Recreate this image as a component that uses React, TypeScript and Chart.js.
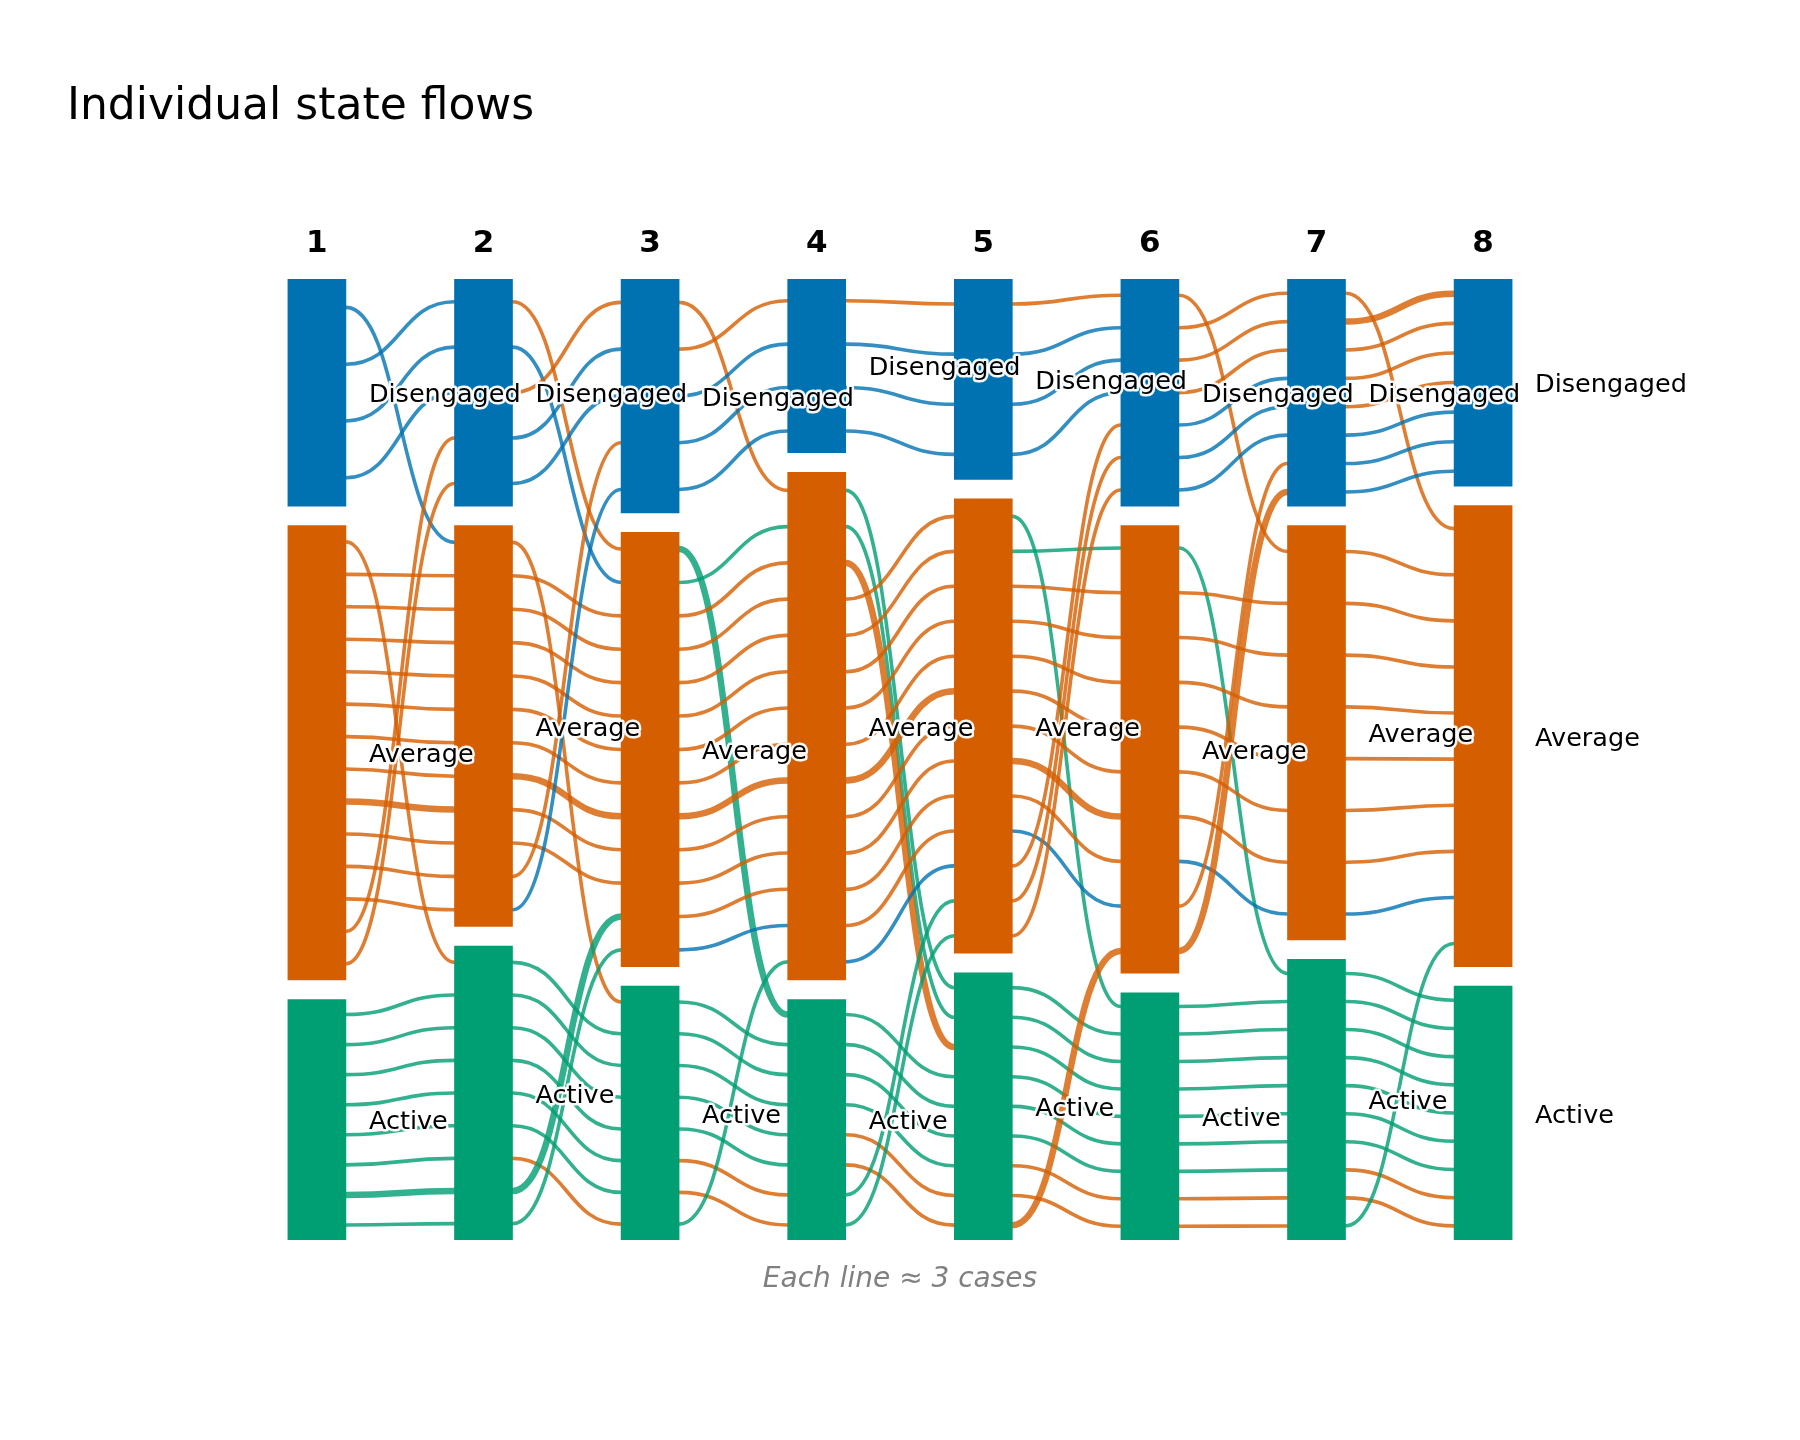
import React, { useEffect, useRef } from "react";
import { Chart, registerables } from "chart.js";

Chart.register(...registerables);

const TITLE = "Individual state flows";
const FOOTNOTE = "Each line \u2248 3 cases";
const COLUMNS = [1, 2, 3, 4, 5, 6, 7, 8];
const STATES = ["Disengaged", "Average", "Active"];
const STATE_COLORS = ["#0072B2", "#D55E00", "#009E73"];
const LINE_COLORS = ["rgba(0,114,178,0.8)", "rgba(213,94,0,0.8)", "rgba(0,158,115,0.8)"];

// cases in each state at each time point
const DISENGAGED = [34, 34, 35, 26, 30, 34, 34, 31];
const AVERAGE = [68, 60, 65, 76, 68, 67, 62, 69];
const ACTIVE = [36, 44, 38, 36, 40, 37, 42, 38];

// number of drawn lines inside each node
const LINES_DIS = [4, 5, 5, 4, 4, 7, 8, 7];
const LINES_AVG = [14, 12, 13, 14, 13, 10, 8, 10];
const LINES_ACT = [8, 9, 8, 8, 9, 9, 10, 9];

// flows: [fromState, fromSlot, toState, toSlot, colourState (state at time 1), weight]
const FLOWS_1_2 = [
  [0, 0, 1, 0, 0, 1], [0, 1, 0, 0, 0, 1], [0, 2, 0, 1, 0, 1], [0, 3, 0, 2, 0, 1],
  [1, 0, 2, 0, 1, 1], [1, 1, 1, 1, 1, 1], [1, 2, 1, 2, 1, 1], [1, 3, 1, 3, 1, 1],
  [1, 4, 1, 4, 1, 1], [1, 5, 1, 5, 1, 1], [1, 6, 1, 6, 1, 1], [1, 7, 1, 7, 1, 1],
  [1, 8, 1, 8, 1, 2], [1, 9, 1, 9, 1, 1], [1, 10, 1, 10, 1, 1], [1, 11, 1, 11, 1, 1],
  [1, 12, 0, 3, 1, 1], [1, 13, 0, 4, 1, 1],
  [2, 0, 2, 1, 2, 1], [2, 1, 2, 2, 2, 1], [2, 2, 2, 3, 2, 1], [2, 3, 2, 4, 2, 1],
  [2, 4, 2, 5, 2, 1], [2, 5, 2, 6, 2, 1], [2, 6, 2, 7, 2, 2], [2, 7, 2, 8, 2, 1],
];
const FLOWS_2_3 = [
  [0, 0, 1, 0, 1, 1], [0, 1, 1, 1, 0, 1], [0, 2, 0, 0, 1, 1], [0, 3, 0, 1, 0, 1], [0, 4, 0, 2, 0, 1],
  [1, 0, 2, 0, 1, 1], [1, 1, 1, 2, 1, 1], [1, 2, 1, 3, 1, 1], [1, 3, 1, 4, 1, 1],
  [1, 4, 1, 5, 1, 1], [1, 5, 1, 6, 1, 1], [1, 6, 1, 7, 1, 1], [1, 7, 1, 8, 1, 2],
  [1, 8, 1, 9, 1, 1], [1, 9, 1, 10, 1, 1], [1, 10, 0, 3, 1, 1], [1, 11, 0, 4, 0, 1],
  [2, 0, 2, 1, 2, 1], [2, 1, 2, 2, 2, 1], [2, 2, 2, 3, 2, 1], [2, 3, 2, 4, 2, 1],
  [2, 4, 2, 5, 2, 1], [2, 5, 2, 6, 2, 1], [2, 6, 2, 7, 1, 1], [2, 7, 1, 11, 2, 2],
  [2, 8, 1, 12, 2, 1],
];
const FLOWS_3_4 = [
  [0, 0, 1, 0, 1, 1], [0, 1, 0, 0, 1, 1], [0, 2, 0, 1, 0, 1], [0, 3, 0, 2, 0, 1], [0, 4, 0, 3, 0, 1],
  [1, 0, 2, 0, 2, 2], [1, 1, 1, 1, 2, 1], [1, 2, 1, 2, 1, 1], [1, 3, 1, 3, 1, 1],
  [1, 4, 1, 4, 1, 1], [1, 5, 1, 5, 1, 1], [1, 6, 1, 6, 1, 1], [1, 7, 1, 7, 1, 1],
  [1, 8, 1, 8, 1, 2], [1, 9, 1, 9, 1, 1], [1, 10, 1, 10, 1, 1], [1, 11, 1, 11, 1, 1],
  [1, 12, 1, 12, 0, 1],
  [2, 0, 2, 1, 2, 1], [2, 1, 2, 2, 2, 1], [2, 2, 2, 3, 2, 1], [2, 3, 2, 4, 2, 1],
  [2, 4, 2, 5, 2, 1], [2, 5, 2, 6, 1, 1], [2, 6, 2, 7, 1, 1], [2, 7, 1, 13, 2, 1],
];
const FLOWS_4_5 = [
  [0, 0, 0, 0, 1, 1], [0, 1, 0, 1, 0, 1], [0, 2, 0, 2, 0, 1], [0, 3, 0, 3, 0, 1],
  [1, 0, 2, 0, 2, 1], [1, 1, 2, 1, 2, 1], [1, 2, 2, 2, 1, 2], [1, 3, 1, 0, 1, 1],
  [1, 4, 1, 1, 1, 1], [1, 5, 1, 2, 1, 1], [1, 6, 1, 3, 1, 1], [1, 7, 1, 4, 1, 1],
  [1, 8, 1, 5, 1, 2], [1, 9, 1, 6, 1, 1], [1, 10, 1, 7, 1, 1], [1, 11, 1, 8, 1, 1],
  [1, 12, 1, 9, 1, 1], [1, 13, 1, 10, 0, 1],
  [2, 0, 2, 3, 2, 1], [2, 1, 2, 4, 2, 1], [2, 2, 2, 5, 2, 1], [2, 3, 2, 6, 2, 1],
  [2, 4, 2, 7, 1, 1], [2, 5, 2, 8, 1, 1], [2, 6, 1, 11, 2, 1], [2, 7, 1, 12, 2, 1],
];
const FLOWS_5_6 = [
  [0, 0, 0, 0, 1, 1], [0, 1, 0, 1, 0, 1], [0, 2, 0, 2, 0, 1], [0, 3, 0, 3, 0, 1],
  [1, 0, 2, 0, 2, 1], [1, 1, 1, 0, 2, 1], [1, 2, 1, 1, 1, 1], [1, 3, 1, 2, 1, 1],
  [1, 4, 1, 3, 1, 1], [1, 5, 1, 4, 1, 1], [1, 6, 1, 5, 1, 1], [1, 7, 1, 6, 1, 2],
  [1, 8, 1, 7, 1, 1], [1, 9, 1, 8, 0, 1], [1, 10, 0, 4, 1, 1], [1, 11, 0, 5, 1, 1],
  [1, 12, 0, 6, 1, 1],
  [2, 0, 2, 1, 2, 1], [2, 1, 2, 2, 2, 1], [2, 2, 2, 3, 2, 1], [2, 3, 2, 4, 2, 1],
  [2, 4, 2, 5, 2, 1], [2, 5, 2, 6, 2, 1], [2, 6, 2, 7, 1, 1], [2, 7, 2, 8, 1, 1],
  [2, 8, 1, 9, 1, 2],
];
const FLOWS_6_7 = [
  [0, 0, 1, 0, 1, 1], [0, 1, 0, 0, 1, 1], [0, 2, 0, 1, 1, 1], [0, 3, 0, 2, 1, 1],
  [0, 4, 0, 3, 0, 1], [0, 5, 0, 4, 0, 1], [0, 6, 0, 5, 0, 1],
  [1, 0, 2, 0, 2, 1], [1, 1, 1, 1, 1, 1], [1, 2, 1, 2, 1, 1], [1, 3, 1, 3, 1, 1],
  [1, 4, 1, 4, 1, 1], [1, 5, 1, 5, 1, 1], [1, 6, 1, 6, 1, 1], [1, 7, 1, 7, 0, 1],
  [1, 8, 0, 6, 1, 1], [1, 9, 0, 7, 1, 2],
  [2, 0, 2, 1, 2, 1], [2, 1, 2, 2, 2, 1], [2, 2, 2, 3, 2, 1], [2, 3, 2, 4, 2, 1],
  [2, 4, 2, 5, 2, 1], [2, 5, 2, 6, 2, 1], [2, 6, 2, 7, 2, 1], [2, 7, 2, 8, 1, 1],
  [2, 8, 2, 9, 1, 1],
];
const FLOWS_7_8 = [
  [0, 0, 1, 0, 1, 1], [0, 1, 0, 0, 1, 2], [0, 2, 0, 1, 1, 1], [0, 3, 0, 2, 1, 1],
  [0, 4, 0, 3, 1, 1], [0, 5, 0, 4, 0, 1], [0, 6, 0, 5, 0, 1], [0, 7, 0, 6, 0, 1],
  [1, 0, 1, 1, 1, 1], [1, 1, 1, 2, 1, 1], [1, 2, 1, 3, 1, 1], [1, 3, 1, 4, 1, 1],
  [1, 4, 1, 5, 1, 1], [1, 5, 1, 6, 1, 1], [1, 6, 1, 7, 1, 1], [1, 7, 1, 8, 0, 1],
  [2, 0, 2, 0, 2, 1], [2, 1, 2, 1, 2, 1], [2, 2, 2, 2, 2, 1], [2, 3, 2, 3, 2, 1],
  [2, 4, 2, 4, 2, 1], [2, 5, 2, 5, 2, 1], [2, 6, 2, 6, 2, 1], [2, 7, 2, 7, 1, 1],
  [2, 8, 2, 8, 1, 1], [2, 9, 1, 9, 2, 1],
];

const FLOWS = [FLOWS_1_2, FLOWS_2_3, FLOWS_3_4, FLOWS_4_5, FLOWS_5_6, FLOWS_6_7, FLOWS_7_8];
const SIZES = [DISENGAGED, AVERAGE, ACTIVE];
const LINES = [LINES_DIS, LINES_AVG, LINES_ACT];

// layout constants (not data)
const NODE_GAP = 2.92;
const BAR_W = 58;
const FONT = "'DejaVu Sans', 'Noto Sans', sans-serif";

function nodeTop(ci: number, si: number) {
  let t = si * NODE_GAP;
  for (let k = 0; k < si; k++) t += SIZES[k][ci];
  return t;
}
function slotValue(ci: number, si: number, slot: number) {
  return nodeTop(ci, si) + ((slot + 0.5) * SIZES[si][ci]) / LINES[si][ci];
}
function columnTotal(ci: number) {
  return SIZES.reduce((s, arr) => s + arr[ci], 0) + 2 * NODE_GAP;
}

const flowPlugin = {
  id: "flows",
  beforeDatasetsDraw(chart: any) {
    const { ctx } = chart;
    const x = chart.scales.x;
    const y = chart.scales.y;
    const half = BAR_W / 2;
    ctx.save();
    ctx.lineCap = "butt";
    ctx.lineJoin = "round";
    FLOWS.forEach((segs, g) => {
      const x0 = x.getPixelForValue(COLUMNS[g]) + half;
      const x1 = x.getPixelForValue(COLUMNS[g + 1]) - half;
      const mx = (x0 + x1) / 2;
      segs.forEach(([fs, fi, ts, ti, c, w]) => {
        const y0 = y.getPixelForValue(slotValue(g, fs, fi));
        const y1 = y.getPixelForValue(slotValue(g + 1, ts, ti));
        ctx.beginPath();
        ctx.moveTo(x0 - 2, y0);
        ctx.lineTo(x0, y0);
        ctx.bezierCurveTo(mx, y0, mx, y1, x1, y1);
        ctx.lineTo(x1 + 2, y1);
        ctx.strokeStyle = LINE_COLORS[c];
        ctx.lineWidth = w === 2 ? 6.5 : 3.6;
        ctx.stroke();
      });
    });
    ctx.restore();
  },
  afterDatasetsDraw(chart: any) {
    const { ctx } = chart;
    const x = chart.scales.x;
    const y = chart.scales.y;
    const half = BAR_W / 2;
    ctx.save();
    // column numbers
    ctx.font = `bold 31px ${FONT}`;
    ctx.fillStyle = "#000";
    ctx.textAlign = "center";
    ctx.textBaseline = "alphabetic";
    COLUMNS.forEach((c) => {
      ctx.fillText(String(c), x.getPixelForValue(c), y.getPixelForValue(0) - 27.5);
    });
    // node labels with halo
    ctx.font = `25.5px ${FONT}`;
    ctx.textAlign = "left";
    ctx.textBaseline = "middle";
    ctx.lineJoin = "round";
    COLUMNS.forEach((c, ci) => {
      STATES.forEach((s, si) => {
        const top = nodeTop(ci, si);
        const mid = y.getPixelForValue(top + SIZES[si][ci] / 2) + 3;
        const lx = x.getPixelForValue(c) + half + 23;
        ctx.strokeStyle = "rgba(255,255,255,0.95)";
        ctx.lineWidth = 5;
        ctx.strokeText(s, lx, mid);
        ctx.fillStyle = "#000";
        ctx.fillText(s, lx, mid);
      });
    });
    ctx.restore();
  },
};

export default function App() {
  const ref = useRef<HTMLCanvasElement | null>(null);
  useEffect(() => {
    document.body.style.margin = "0";
    const canvas = ref.current;
    if (!canvas) return;
    const datasets = STATES.map((s, si) => ({
      label: s,
      data: COLUMNS.map((c, ci) => ({
        x: c,
        y: [nodeTop(ci, si), nodeTop(ci, si) + SIZES[si][ci]],
      })),
      backgroundColor: STATE_COLORS[si],
      borderWidth: 0,
      barThickness: BAR_W,
      grouped: false,
    }));
    const chart = new Chart(canvas, {
      type: "bar",
      data: { datasets } as any,
      options: {
        responsive: false,
        animation: false,
        devicePixelRatio: 1,
        events: [],
        layout: { padding: { left: 67, right: 67, top: 0, bottom: 143.4 } },
        scales: {
          x: { type: "linear", min: -0.5, max: 9.5, offset: false, display: false },
          y: { type: "linear", min: 0, max: columnTotal(0), reverse: true, display: false },
        },
        plugins: {
          legend: { display: false },
          tooltip: { enabled: false },
          title: {
            display: true,
            text: TITLE,
            align: "start",
            color: "#000",
            font: { family: FONT, size: 44, weight: "normal" },
            padding: { top: 81.1, bottom: 145.1 },
          },
          subtitle: {
            display: true,
            position: "bottom",
            text: FOOTNOTE,
            color: "#808080",
            font: { family: FONT, size: 28, style: "italic", weight: "normal" },
            padding: { top: 23, bottom: 0 },
          },
        },
      } as any,
      plugins: [flowPlugin],
    });
    return () => chart.destroy();
  }, []);
  return (
    <canvas ref={ref} width={1800} height={1440} style={{ display: "block", width: 1800, height: 1440 }} />
  );
}
